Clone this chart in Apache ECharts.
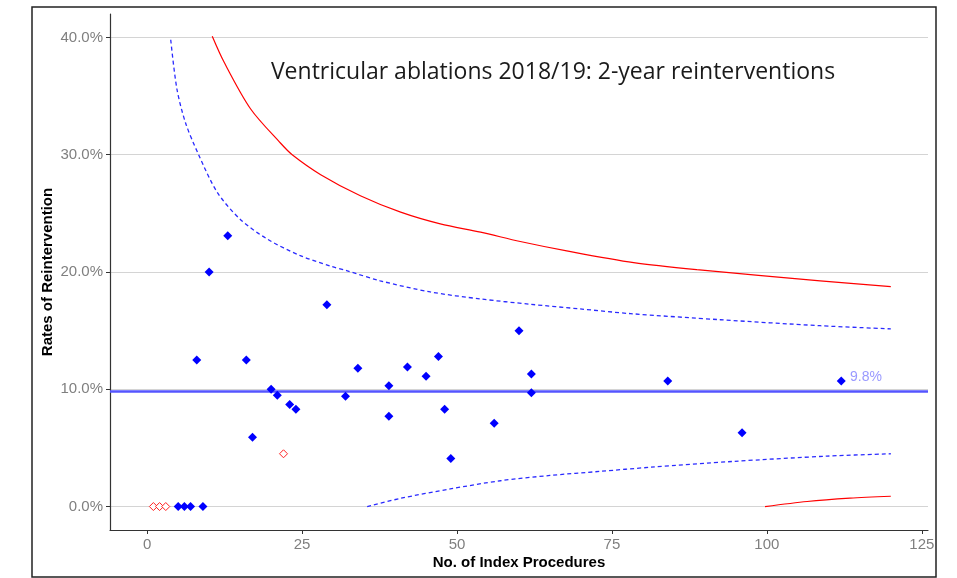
<!DOCTYPE html>
<html>
<head>
<meta charset="utf-8">
<script src="https://cdn.jsdelivr.net/npm/echarts@6/dist/echarts.min.js"></script>
<style>
  html, body { margin: 0; padding: 0; background: #fff; }
  #chart { width: 957px; height: 578px; }
</style>
</head>
<body>
<div id="chart"></div>
<script>
// hospitals: number of index procedures and 2-year reintervention rate (%)
const unitsN = [5, 6, 7, 9, 8, 10, 13, 16, 17, 20, 21, 23, 24, 29, 32, 34, 39, 39, 42, 45, 47, 48, 49, 56, 60, 62, 62, 84, 96, 112]
const unitsRate = [0, 0, 0, 0, 12.5, 20, 23.1, 12.5, 5.9, 10, 9.5, 8.7, 8.3, 17.2, 9.4, 11.8, 10.3, 7.7, 11.9, 11.1, 12.8, 8.3, 4.1, 7.1, 15, 11.3, 9.7, 10.7, 6.3, 10.7]
// flagged units (hollow red)
const flaggedN = [1, 2, 3, 22]
const flaggedRate = [0, 0, 0, 4.5]

const meanRate = 9.8

// control limits
const upper998X = [10.5, 12.4, 16.7, 21.5, 23.4, 28, 34.4, 40.9, 47.3, 53.8, 60.2, 67.7, 78.5, 88.7, 108.6, 120]
const upper998Y = [40.1, 37.9, 33.9, 31.0, 30.0, 28.3, 26.5, 25.1, 24.1, 23.4, 22.6, 21.8, 20.8, 20.2, 19.25, 18.75]
const upper95X = [3.8, 4.8, 6.2, 8.3, 11.3, 15.0, 19.4, 24.7, 29.6, 32.3, 37.6, 45.7, 53.8, 61.8, 69.9, 78, 92.5, 108.6, 120]
const upper95Y = [39.8, 35.6, 32.7, 30.0, 26.8, 24.5, 22.8, 21.4, 20.5, 20.1, 19.25, 18.3, 17.7, 17.25, 16.85, 16.45, 15.93, 15.42, 15.15]
const lower95X = [35.5, 40.9, 48.9, 57, 65, 73.1, 81.2, 94.6, 109.7, 120]
const lower95Y = [0, 0.7, 1.5, 2.2, 2.65, 3.0, 3.35, 3.85, 4.3, 4.5]
const lower998X = [99.7, 106.5, 113.4, 120]
const lower998Y = [0, 0.43, 0.71, 0.88]

const xTicks = [0, 25, 50, 75, 100, 125]
const yTicks = [0, 10, 20, 30, 40]

function pairs (xs, ys) {
  return xs.map((x, i) => [x, ys[i]])
}

const myChart = echarts.init(document.getElementById('chart'))

const labelFont = { color: '#7f7f7f', fontSize: 15, fontFamily: 'Liberation Sans' }
const nameFont = { color: '#000', fontSize: 15, fontWeight: 'bold', fontFamily: 'Liberation Sans' }

const option = {
  animation: false,
  title: {
    text: 'Ventricular ablations 2018/19: 2-year reinterventions',
    left: 548,
    top: 56,
    textAlign: 'center',
    textStyle: { color: '#1a1a1a', fontSize: 23, fontWeight: 'normal', fontFamily: 'Open Sans' }
  },
  graphic: [{
    type: 'rect',
    shape: { x: 32, y: 7, width: 904, height: 570 },
    style: { fill: 'none', stroke: '#222', lineWidth: 1.5 },
    silent: true
  }],
  grid: { left: 110, right: 29, top: 14, bottom: 48, outerBoundsMode: 'none' },
  xAxis: {
    type: 'value',
    min: -6,
    max: 126,
    name: 'No. of Index Procedures',
    nameLocation: 'middle',
    nameGap: 25,
    nameMoveOverlap: false,
    nameTextStyle: nameFont,
    axisLine: { onZero: false, lineStyle: { color: '#333', width: 1.2 } },
    axisTick: { customValues: xTicks, length: 4, lineStyle: { color: '#333' } },
    axisLabel: { customValues: xTicks, margin: 7, ...labelFont },
    splitLine: { show: false }
  },
  yAxis: {
    type: 'value',
    min: -2,
    max: 42,
    name: 'Rates of Reintervention',
    nameLocation: 'middle',
    nameGap: 55,
    nameRotate: 90,
    nameMoveOverlap: false,
    nameTextStyle: nameFont,
    axisLine: { show: true, onZero: false, lineStyle: { color: '#333', width: 1.2 } },
    axisTick: { show: true, customValues: yTicks, length: 4, lineStyle: { color: '#333' } },
    axisLabel: { customValues: yTicks, margin: 7, formatter: v => v.toFixed(1) + '%', ...labelFont },
    splitLine: { show: true, lineStyle: { color: '#d4d4d4', width: 1 } }
  },
  series: [
    {
      type: 'line', data: pairs(upper998X, upper998Y), smooth: 0.3, symbol: 'none',
      lineStyle: { color: '#ff0000', width: 1.2 }, silent: true
    },
    {
      type: 'line', data: pairs(lower998X, lower998Y), smooth: 0.3, symbol: 'none',
      lineStyle: { color: '#ff0000', width: 1.2 }, silent: true
    },
    {
      type: 'line', data: pairs(upper95X, upper95Y), smooth: 0.3, symbol: 'none',
      lineStyle: { color: '#2a2aff', width: 1.3, type: [4, 3] }, silent: true
    },
    {
      type: 'line', data: pairs(lower95X, lower95Y), smooth: 0.3, symbol: 'none',
      lineStyle: { color: '#2a2aff', width: 1.3, type: [4, 3] }, silent: true
    },
    {
      type: 'scatter',
      data: [[116, meanRate]],
      symbolSize: 0,
      z: 3,
      label: {
        show: true,
        position: 'top',
        distance: 7,
        formatter: meanRate.toFixed(1) + '%',
        color: '#8080ff',
        fontSize: 14,
        fontFamily: 'Liberation Sans'
      },
      markLine: {
        silent: true,
        symbol: 'none',
        label: { show: false },
        lineStyle: { color: '#5555ff', width: 2.5, type: 'solid', opacity: 1 },
        data: [{ yAxis: meanRate }]
      }
    },
    {
      type: 'scatter',
      data: pairs(unitsN, unitsRate),
      symbol: 'diamond',
      symbolSize: 9,
      itemStyle: { color: '#0000ff', opacity: 1 },
      z: 5
    },
    {
      type: 'scatter',
      data: pairs(flaggedN, flaggedRate),
      symbol: 'diamond',
      symbolSize: 8,
      itemStyle: { color: '#fff', borderColor: '#ff2020', borderWidth: 1, opacity: 1 },
      z: 5
    }
  ]
}

myChart.setOption(option)
</script>
</body>
</html>
